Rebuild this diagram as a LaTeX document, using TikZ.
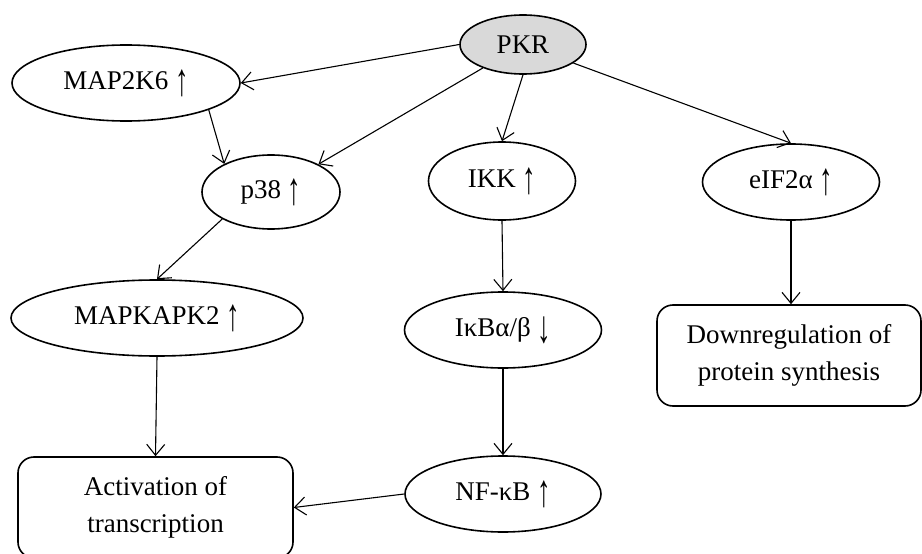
\documentclass[tikz,border=0pt]{standalone}
\usepackage{fontspec}
\setmainfont{Liberation Serif}
\usetikzlibrary{shapes.geometric,arrows.meta}
\definecolor{pkrgray}{HTML}{D9D9D9}
\newcommand\uparr{\raisebox{-0.2em}{\resizebox{0.5em}{0.95em}{↑}}}
\newcommand\dnarr{\raisebox{-0.2em}{\resizebox{0.5em}{0.95em}{↓}}}
\begin{document}
\begin{tikzpicture}[x=1pt,y=-1pt,
  every node/.style={font=\fontsize{27}{37}\selectfont, inner sep=0pt},
  oval/.style={ellipse, draw, line width=1.6pt},
  roundbox/.style={draw, rounded corners=16pt, line width=1.6pt, align=center},
  conn/.style={line width=1.1pt, -{Straight Barb[length=11pt,width=18pt,line width=1.1pt]}}]
\useasboundingbox (0,0) rectangle (922,554);
\node[oval, fill=pkrgray, minimum width=126pt, minimum height=59pt] (pkr) at (523,44.5) {PKR};
\node[oval, minimum width=228pt, minimum height=76pt] (map2k6) at (126,83) {MAP2K6 \uparr};
\node[oval, minimum width=138pt, minimum height=74pt] (p38) at (271,192) {p38 \uparr};
\node[oval, minimum width=147pt, minimum height=78pt] (ikk) at (502,181) {IKK \uparr};
\node[oval, minimum width=177pt, minimum height=76pt] (eif) at (791,182) {eIF2α \uparr};
\node[oval, minimum width=292pt, minimum height=76pt] (mapkapk) at (157,318) {MAPKAPK2 \uparr};
\node[oval, minimum width=197pt, minimum height=76pt] (ikb) at (503,330) {IκBα/β \dnarr};
\node[oval, minimum width=196pt, minimum height=76pt] (nfkb) at (503,494) {NF-κB \uparr};
\node[roundbox, minimum width=264pt, minimum height=101pt] (down) at (789,355.5) {Downregulation of\\protein synthesis};
\node[roundbox, minimum width=275pt, minimum height=101pt] (act) at (155.5,507.5) {Activation of\\transcription};
\draw[conn] (pkr.west) -- (map2k6.east);
\draw[conn] (pkr) -- (p38);
\draw[conn] (pkr.south) -- (ikk.north);
\draw[conn] (pkr) -- (eif.north);
\draw[conn] (map2k6.-18) -- (p38.149);
\draw[conn] (p38.209) -- (mapkapk.north);
\draw[conn] (ikk.south) -- (ikb.north);
\draw[conn] (eif.south) -- (eif.south |- down.north);
\draw[conn] (mapkapk.south) -- (act.north);
\draw[conn] (ikb.south) -- (nfkb.north);
\draw[conn] (nfkb.west) -- (act.east);
\end{tikzpicture}
\end{document}
